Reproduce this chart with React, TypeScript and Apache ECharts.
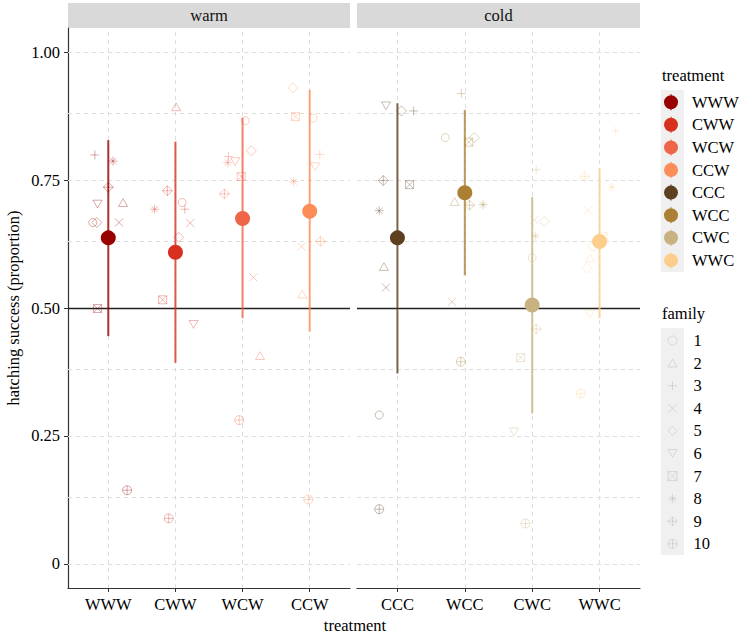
import React, { useEffect, useRef } from 'react';
import * as echarts from 'echarts';

// ---------- data ----------
const warmTreatments = ['WWW', 'CWW', 'WCW', 'CCW'];
const coldTreatments = ['CCC', 'WCC', 'CWC', 'WWC'];
const panelNames = ['warm', 'cold'];
const treatmentColors = ['#990000', '#d7301f', '#ef6548', '#fc8d59', '#5e4020', '#ab8034', '#c9b282', '#fdcd8c'];
const families = ['1', '2', '3', '4', '5', '6', '7', '8', '9', '10'];

const yTickValues = [0, 0.25, 0.5, 0.75, 1];
const yTickLabels = ['0', '0.25', '0.50', '0.75', '1.00'];
const yGridValues = [0, 0.125, 0.25, 0.375, 0.5, 0.625, 0.75, 0.875, 1];
const referenceLine = 0.5;

// model estimates, order: WWW CWW WCW CCW CCC WCC CWC WWC
const meanValues = [0.637, 0.609, 0.675, 0.689, 0.637, 0.725, 0.506, 0.630];
const lowerValues = [0.445, 0.393, 0.480, 0.454, 0.372, 0.564, 0.294, 0.480];
const upperValues = [0.828, 0.825, 0.872, 0.926, 0.900, 0.887, 0.717, 0.773];

// raw family proportions (family 1..10) per treatment
const wwwValues = [0.667, 0.706, 0.799, 0.667, 0.667, 0.703, 0.499, 0.787, 0.736, 0.144];
const cwwValues = [0.706, 0.893, 0.693, 0.666, 0.638, 0.468, 0.516, 0.693, 0.729, 0.089];
const wcwValues = [0.866, 0.407, 0.796, 0.560, 0.807, 0.786, 0.757, 0.784, 0.723, 0.281];
const ccwValues = [0.871, 0.527, 0.800, 0.620, 0.930, 0.776, 0.874, 0.747, 0.630, 0.126];
const cccValues = [0.291, 0.581, 0.885, 0.540, 0.885, 0.895, 0.741, 0.690, 0.749, 0.107];
const wccValues = [0.833, 0.708, 0.919, 0.512, 0.833, 0.720, 0.824, 0.702, 0.701, 0.395];
const cwcValues = [0.598, 0.505, 0.770, 0.672, 0.669, 0.258, 0.403, 0.641, 0.459, 0.079];
const wwcValues = [0.620, 0.598, 0.846, 0.691, 0.578, 0.488, 0.640, 0.736, 0.757, 0.333];

// horizontal jitter (in category units) per treatment, family 1..10
const wwwJitter = [-0.23, 0.22, -0.20, 0.16, -0.17, -0.16, -0.16, 0.07, 0.0, 0.28];
const cwwJitter = [0.10, 0.01, 0.14, 0.22, 0.05, 0.27, -0.19, -0.31, -0.12, -0.10];
const wcwJitter = [0.04, 0.26, -0.21, 0.16, 0.13, -0.11, -0.02, -0.22, -0.27, -0.05];
const ccwJitter = [0.05, -0.11, 0.15, -0.12, -0.25, 0.08, -0.21, -0.24, 0.16, -0.02];
const cccJitter = [-0.27, -0.20, 0.24, -0.17, 0.06, -0.17, 0.18, -0.27, -0.21, -0.27];
const wccJitter = [-0.29, -0.15, -0.05, -0.19, 0.14, 0.0, 0.06, 0.27, 0.07, -0.06];
const cwcJitter = [0.0, 0.0, 0.06, 0.03, 0.18, -0.27, -0.17, 0.05, 0.06, -0.10];
const wwcJitter = [-0.1, -0.14, 0.24, -0.17, -0.19, -0.14, 0.05, 0.18, -0.22, -0.28];

const familyValues = [wwwValues, cwwValues, wcwValues, ccwValues, cccValues, wccValues, cwcValues, wwcValues];
const familyJitter = [wwwJitter, cwwJitter, wcwJitter, ccwJitter, cccJitter, wccJitter, cwcJitter, wwcJitter];

// ---------- styling ----------
const FONT = 'Liberation Serif';
const FS = 16.5;
const panelLeft = [68, 357];
const panelWidth = [282, 283];
const panelTop = 28;
const panelHeight = 560;
const yMin = -0.047;
const yMax = 1.047;
const xMin = 0.4;
const xMax = 4.6;
const catPositions = [1, 2, 3, 4];

const familySymbols = [
  'circle',
  'path://M5 0 L10 8.66 L0 8.66 Z',
  'path://M5 0 L5 10 M0 5 L10 5',
  'path://M0 0 L10 10 M10 0 L0 10',
  'path://M5 0 L10 5 L5 10 L0 5 Z',
  'path://M0 0 L10 0 L5 8.66 Z',
  'path://M0 0 L10 0 L10 10 L0 10 Z M0 0 L10 10 M10 0 L0 10',
  'path://M5 0 L5 10 M0 5 L10 5 M1.5 1.5 L8.5 8.5 M8.5 1.5 L1.5 8.5',
  'path://M5 0 L10 5 L5 10 L0 5 Z M5 0 L5 10 M0 5 L10 5',
  'path://M0 5 A5 5 0 1 1 10 5 A5 5 0 1 1 0 5 Z M5 0 L5 10 M0 5 L10 5',
];
const familySymbolSizes = [8, 9, 9, 8, 10, 9, 8, 9, 10, 9];
const pointRangeIcon = 'path://M7.4 0 L8.6 0 L8.6 16 L7.4 16 Z M1 8 A7 7 0 1 1 15 8 A7 7 0 1 1 1 8 Z';

function buildOption() {
  const panels = [warmTreatments, coldTreatments];
  const allTreatments = [...warmTreatments, ...coldTreatments];

  const grid = panels.map((_, p) => ({
    left: panelLeft[p],
    top: panelTop,
    width: panelWidth[p],
    height: panelHeight,
    containLabel: false,
    outerBoundsMode: 'none',
  }));

  const xAxis = panels.map((labels, p) => ({
    type: 'value',
    gridIndex: p,
    min: xMin,
    max: xMax,
    axisLine: { show: true, onZero: false, lineStyle: { color: '#333', width: 1.2 } },
    axisTick: { show: true, length: 4, customValues: catPositions, lineStyle: { color: '#333' } },
    axisLabel: {
      customValues: catPositions,
      formatter: (v: number) => labels[Math.round(v) - 1] ?? '',
      fontFamily: FONT,
      fontSize: FS,
      color: '#000',
      margin: 8,
    },
    splitLine: { show: false },
  }));

  const yAxis = panels.map((_, p) =>
    p === 0
      ? {
          type: 'value',
          gridIndex: 0,
          min: yMin,
          max: yMax,
          name: 'hatching success (proportion)',
          nameLocation: 'middle',
          nameGap: 46,
          nameRotate: 90,
          nameTextStyle: { fontFamily: FONT, fontSize: FS, color: '#000' },
          axisLine: { show: true, onZero: false, lineStyle: { color: '#333', width: 1.2 } },
          axisTick: { show: true, length: 4, customValues: yTickValues, lineStyle: { color: '#333' } },
          axisLabel: {
            customValues: yTickValues,
            formatter: (v: number) => {
              const i = yTickValues.findIndex((t) => Math.abs(t - v) < 1e-6);
              return i >= 0 ? yTickLabels[i] : '';
            },
            fontFamily: FONT,
            fontSize: FS,
            color: '#000',
            margin: 8,
          },
          splitLine: { show: false },
        }
      : {
          type: 'value',
          gridIndex: 1,
          min: yMin,
          max: yMax,
          axisLine: { show: false },
          axisTick: { show: false },
          axisLabel: { show: false },
          splitLine: { show: false },
        }
  );

  const series: any[] = [];

  panels.forEach((labels, p) => {
    // grid lines
    series.push({
      type: 'scatter',
      name: '__grid' + p,
      xAxisIndex: p,
      yAxisIndex: p,
      data: [[1, 0.5]],
      symbolSize: 0,
      itemStyle: { opacity: 0 },
      silent: true,
      z: 1,
      markLine: {
        silent: true,
        z: 1,
        symbol: ['none', 'none'],
        label: { show: false },
        emphasis: { disabled: true },
        lineStyle: { color: '#dedede', type: [4, 4], width: 1 },
        data: [
          ...yGridValues.map((v) => ({ yAxis: v })),
          ...catPositions.map((v) => ({ xAxis: v })),
        ],
      },
    });
    // reference line
    series.push({
      type: 'scatter',
      name: '__ref' + p,
      xAxisIndex: p,
      yAxisIndex: p,
      data: [[1, 0.5]],
      symbolSize: 0,
      itemStyle: { opacity: 0 },
      silent: true,
      z: 2,
      markLine: {
        silent: true,
        z: 2,
        symbol: ['none', 'none'],
        label: { show: false },
        emphasis: { disabled: true },
        lineStyle: { color: '#222', type: 'solid', width: 1.3 },
        data: [{ yAxis: referenceLine }],
      },
    });

    // family raw points
    families.forEach((f, fi) => {
      series.push({
        type: 'scatter',
        name: f,
        xAxisIndex: p,
        yAxisIndex: p,
        symbol: familySymbols[fi],
        symbolSize: familySymbolSizes[fi],
        symbolKeepAspect: true,
        silent: true,
        z: 6,
        itemStyle: { color: 'transparent', borderColor: '#999', borderWidth: 1, opacity: 0.34 },
        data: labels.map((_, ti) => {
          const g = p * 4 + ti;
          return {
            value: [catPositions[ti] + familyJitter[g][fi], familyValues[g][fi]],
            itemStyle: { color: 'transparent', borderColor: treatmentColors[g] },
          };
        }),
      });
    });

    // error bars
    series.push({
      type: 'custom',
      name: '__bars' + p,
      xAxisIndex: p,
      yAxisIndex: p,
      silent: true,
      z: 8,
      data: labels.map((_, ti) => {
        const g = p * 4 + ti;
        return [catPositions[ti], lowerValues[g], upperValues[g], g];
      }),
      renderItem: (params: any, api: any) => {
        const x = api.value(0);
        const lo = api.coord([x, api.value(1)]);
        const hi = api.coord([x, api.value(2)]);
        const c = treatmentColors[api.value(3)];
        return {
          type: 'line',
          shape: { x1: lo[0], y1: lo[1], x2: hi[0], y2: hi[1] },
          style: { stroke: c, lineWidth: 2, opacity: 0.8 },
        };
      },
    });

    // means
    labels.forEach((t, ti) => {
      const g = p * 4 + ti;
      series.push({
        type: 'scatter',
        name: t,
        xAxisIndex: p,
        yAxisIndex: p,
        symbol: 'circle',
        symbolSize: 15,
        silent: true,
        z: 10,
        itemStyle: { color: treatmentColors[g], opacity: 1 },
        data: [[catPositions[ti], meanValues[g]]],
      });
    });
  });

  const graphic: any[] = [];
  panels.forEach((_, p) => {
    graphic.push({
      type: 'rect',
      shape: { x: panelLeft[p], y: 3, width: panelWidth[p], height: 25 },
      style: { fill: '#d9d9d9' },
      silent: true,
    });
    graphic.push({
      type: 'text',
      x: panelLeft[p] + panelWidth[p] / 2,
      y: 15.5,
      style: {
        text: panelNames[p],
        fontFamily: FONT,
        fontSize: FS,
        fill: '#111',
        align: 'center',
        verticalAlign: 'middle',
      },
      silent: true,
    });
  });
  graphic.push({ type: 'rect', shape: { x: 661, y: 90, width: 23, height: 182 }, style: { fill: '#f0f0f0' }, silent: true, z: -1 });
  graphic.push({ type: 'rect', shape: { x: 661, y: 328, width: 23, height: 227 }, style: { fill: '#f0f0f0' }, silent: true, z: -1 });
  graphic.push({
    type: 'text', x: 662, y: 75,
    style: { text: 'treatment', fontFamily: FONT, fontSize: FS, fill: '#000', align: 'left', verticalAlign: 'middle' },
    silent: true,
  });
  graphic.push({
    type: 'text', x: 662, y: 313,
    style: { text: 'family', fontFamily: FONT, fontSize: FS, fill: '#000', align: 'left', verticalAlign: 'middle' },
    silent: true,
  });
  graphic.push({
    type: 'text', x: 355, y: 625,
    style: { text: 'treatment', fontFamily: FONT, fontSize: FS, fill: '#000', align: 'center', verticalAlign: 'middle' },
    silent: true,
  });

  const legendText = {
    fontFamily: FONT,
    fontSize: FS,
    color: '#000',
    lineHeight: 16,
    rich: {
      t: { fontFamily: FONT, fontSize: FS, color: '#000', lineHeight: 16, padding: [0, 0, 0, 8] },
    },
  };

  const legend = [
    {
      data: allTreatments.map((t) => ({ name: t, icon: pointRangeIcon })),
      orient: 'vertical',
      left: 664,
      top: 93.7,
      padding: 0,
      itemWidth: 16,
      itemHeight: 16,
      itemGap: 5.6,
      selectedMode: false,
      formatter: (name: string) => '{t|' + name + '}',
      textStyle: legendText,
    },
    {
      data: families.map((f, fi) => ({
        name: f,
        icon: familySymbols[fi],
        itemStyle: { color: 'transparent', borderColor: '#a8a8a8', borderWidth: 1 },
      })),
      orient: 'vertical',
      left: 667.5,
      top: 332,
      padding: 0,
      itemWidth: 9,
      itemHeight: 9,
      itemGap: 5.6,
      selectedMode: false,
      formatter: (name: string) => '{t|' + name + '}',
      textStyle: {
        ...legendText,
        rich: { t: { ...legendText.rich.t, padding: [0, 0, 0, 11.5] } },
      },
    },
  ];

  return {
    animation: false,
    backgroundColor: '#ffffff',
    grid,
    xAxis,
    yAxis,
    series,
    legend,
    graphic,
  };
}

export default function App() {
  const ref = useRef<HTMLDivElement>(null);
  useEffect(() => {
    if (!ref.current) return;
    const chart = echarts.init(ref.current, null, { renderer: 'svg' });
    chart.setOption(buildOption() as any);
    return () => chart.dispose();
  }, []);
  return (
    <div
      ref={ref}
      style={{ position: 'fixed', left: 0, top: 0, width: 742, height: 635, background: '#fff' }}
    />
  );
}
